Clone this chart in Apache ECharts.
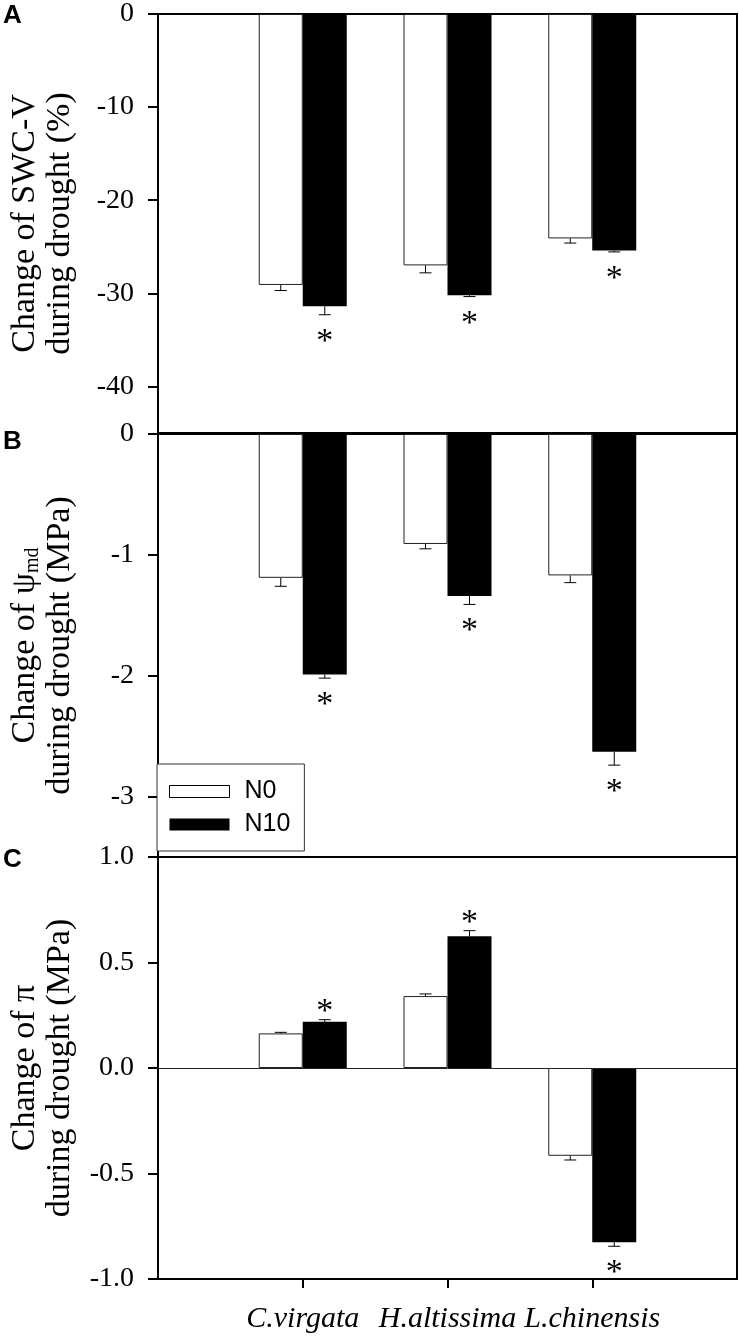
<!DOCTYPE html>
<html>
<head>
<meta charset="utf-8">
<script src="https://cdn.jsdelivr.net/npm/echarts@6/dist/echarts.min.js"></script>
<style>
html,body{margin:0;padding:0;background:#fff;}
#chart{width:739px;height:1337px;}
</style>
</head>
<body>
<div id="chart"></div>
<script>
// ---- data ----
const categories = ['C.virgata', 'H.altissima', 'L.chinensis'];
const seriesNames = ['N0', 'N10'];

// Panel A: change of SWC-V (%)
const swcN0 = [-29.1, -27.0, -24.1];
const swcN0Err = [0.6, 0.8, 0.5];
const swcN10 = [-31.4, -30.2, -25.4];
const swcN10Err = [0.9, 0.15, 0.15];
const swcStars = [true, true, true];
const swcTicks = [0, -10, -20, -30, -40];

// Panel B: change of psi_md (MPa)
const psiN0 = [-1.19, -0.91, -1.17];
const psiN0Err = [0.07, 0.04, 0.06];
const psiN10 = [-1.99, -1.34, -2.63];
const psiN10Err = [0.03, 0.07, 0.11];
const psiStars = [true, true, true];
const psiTicks = [0, -1, -2, -3];

// Panel C: change of pi (MPa)
const piN0 = [0.164, 0.341, -0.416];
const piN0Err = [0.005, 0.01, 0.02];
const piN10 = [0.219, 0.624, -0.826];
const piN10Err = [0.01, 0.027, 0.019];
const piStars = [true, true, true];
const piTicks = [1.0, 0.5, 0.0, -0.5, -1.0];

// ---- build ----
const axisCats = [''].concat(categories, ['']);
const BAR_W = 44;
const SERIF = "'Liberation Serif', 'Times New Roman', Times, serif";
const SANS = "'Liberation Sans', Arial, Helvetica, sans-serif";

function padded(arr) { return [null].concat(arr, [null]); }
function triples(vals, errs) { return vals.map((v, i) => [i + 1, v, errs[i]]); }

function errRender(side) {
  return function (params, api) {
    const idx = api.value(0), v = api.value(1), e = api.value(2);
    const base = api.coord([idx, v]);
    const end = api.coord([idx, v < 0 ? v - e : v + e]);
    const x = base[0] + side * BAR_W / 2;
    return {
      type: 'group',
      children: [
        { type: 'line', shape: { x1: x, y1: base[1], x2: x, y2: end[1] }, style: { stroke: '#000', lineWidth: 1 } },
        { type: 'line', shape: { x1: x - 6, y1: end[1], x2: x + 6, y2: end[1] }, style: { stroke: '#000', lineWidth: 1 } }
      ]
    };
  };
}
function starRender(params, api) {
  const idx = api.value(0), v = api.value(1), e = api.value(2), s = api.value(3);
  if (!s) return null;
  const end = api.coord([idx, v < 0 ? v - e : v + e]);
  const x = end[0] + BAR_W / 2;
  const y = v < 0 ? end[1] + 27 : end[1] - 8;
  return {
    type: 'text',
    style: { text: '*', x: x, y: y, align: 'center', verticalAlign: 'middle',
      fontFamily: SERIF, fontSize: 34, fill: '#000' }
  };
}

const panels = [
  { n0: swcN0, n0e: swcN0Err, n10: swcN10, n10e: swcN10Err, stars: swcStars, ticks: swcTicks,
    min: -45, max: 0, top: 9, height: 424,
    name: 'Change of SWC-V\nduring drought (%)', fmt: v => String(v) },
  { n0: psiN0, n0e: psiN0Err, n10: psiN10, n10e: psiN10Err, stars: psiStars, ticks: psiTicks,
    min: -3.5, max: 0, top: 434, height: 423,
    name: 'Change of ψ{sub|md}\nduring drought (MPa)', fmt: v => String(v) },
  { n0: piN0, n0e: piN0Err, n10: piN10, n10e: piN10Err, stars: piStars, ticks: piTicks,
    min: -1, max: 1, top: 857, height: 422,
    name: 'Change of π\nduring drought (MPa)', fmt: v => v.toFixed(1), zeroLine: true }
];

const grids = [], xAxes = [], yAxes = [], series = [];
panels.forEach((p, k) => {
  const last = k === panels.length - 1;
  grids.push({ left: 151, right: 2, top: p.top, height: p.height, show: true,
    borderColor: '#000', borderWidth: 2, backgroundColor: 'transparent', containLabel: false });
  xAxes.push({
    type: 'category', gridIndex: k, data: axisCats, boundaryGap: false,
    axisLine: { show: true, onZero: false, lineStyle: { color: '#000', width: 2 } },
    axisTick: { show: last, interval: (i) => i >= 1 && i <= categories.length, length: 9,
      lineStyle: { color: '#000', width: 2 } },
    axisLabel: { show: last, interval: (i) => i >= 1 && i <= categories.length, margin: 25,
      fontFamily: SERIF, fontStyle: 'italic', fontSize: 30, color: '#000' },
    splitLine: { show: false }
  });
  yAxes.push({
    type: 'value', gridIndex: k, min: p.min, max: p.max,
    axisLine: { show: true, lineStyle: { color: '#000', width: 2 } },
    axisTick: { show: true, customValues: p.ticks, length: 10, lineStyle: { color: '#000', width: 2 } },
    axisLabel: { show: true, customValues: p.ticks, formatter: p.fmt, margin: 24,
      fontFamily: SERIF, fontSize: 28, color: '#000' },
    splitLine: { show: false },
    name: p.name, nameLocation: 'middle', nameRotate: 90, nameGap: 80,
    nameTextStyle: { fontFamily: SERIF, fontSize: 34, lineHeight: 35, color: '#000',
      rich: { sub: { fontFamily: SERIF, fontSize: 20, lineHeight: 35, verticalAlign: 'bottom', color: '#000' } } }
  });
  const n0 = {
    name: seriesNames[0], type: 'bar', xAxisIndex: k, yAxisIndex: k,
    data: padded(p.n0), barWidth: BAR_W, barGap: '0%',
    itemStyle: { color: '#fff', borderColor: '#222', borderWidth: 1 },
    emphasis: { disabled: true }, z: 2
  };
  if (p.zeroLine) {
    n0.markLine = { silent: true, symbol: 'none', label: { show: false },
      lineStyle: { color: '#222', width: 1, type: 'solid' }, data: [{ yAxis: 0 }] };
  }
  series.push(n0);
  series.push({
    name: seriesNames[1], type: 'bar', xAxisIndex: k, yAxisIndex: k,
    data: padded(p.n10), barWidth: BAR_W, barGap: '0%',
    itemStyle: { color: '#000' }, emphasis: { disabled: true }, z: 2
  });
  series.push({ type: 'custom', xAxisIndex: k, yAxisIndex: k, renderItem: errRender(-1),
    data: triples(p.n0, p.n0e), z: 3, silent: true });
  series.push({ type: 'custom', xAxisIndex: k, yAxisIndex: k, renderItem: errRender(1),
    data: triples(p.n10, p.n10e), z: 3, silent: true });
  series.push({ type: 'custom', xAxisIndex: k, yAxisIndex: k, renderItem: starRender,
    data: p.n10.map((v, i) => [i + 1, v, p.n10e[i], p.stars[i] ? 1 : 0]), z: 4, silent: true });
});

const option = {
  animation: false,
  backgroundColor: '#fff',
  grid: grids, xAxis: xAxes, yAxis: yAxes, series: series,
  legend: {
    left: 157, top: 764, orient: 'vertical',
    data: [
      { name: 'N0', icon: 'rect', itemStyle: { color: '#fff', borderColor: '#000', borderWidth: 1 } },
      { name: 'N10', icon: 'rect', itemStyle: { color: '#000' } }
    ],
    itemWidth: 60, itemHeight: 12, itemGap: 8,
    padding: [15, 14, 14, 12],
    borderColor: '#333', borderWidth: 1, backgroundColor: '#fff',
    textStyle: { fontFamily: SANS, fontSize: 25, color: '#000', lineHeight: 24, padding: [0, 0, 0, 10] },
    selectedMode: false
  },
  graphic: [
    { type: 'text', left: 3, top: 3, style: { text: 'A', fontFamily: SANS, fontWeight: 'bold', fontSize: 26, fill: '#000' } },
    { type: 'text', left: 3, top: 429, style: { text: 'B', fontFamily: SANS, fontWeight: 'bold', fontSize: 26, fill: '#000' } },
    { type: 'text', left: 3, top: 847, style: { text: 'C', fontFamily: SANS, fontWeight: 'bold', fontSize: 26, fill: '#000' } }
  ]
};
const chart = echarts.init(document.getElementById('chart'), null, { renderer: 'canvas' });
chart.setOption(option);
</script>
</body>
</html>
